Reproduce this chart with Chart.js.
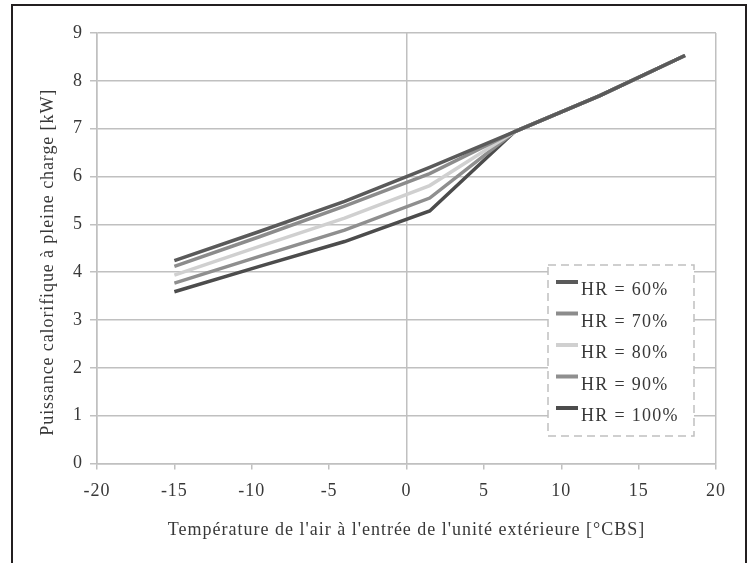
<!DOCTYPE html>
<html>
<head>
<meta charset="utf-8">
<script src="https://cdn.jsdelivr.net/npm/chart.js@4.4.1/dist/chart.umd.min.js"></script>
<style>
  html, body { margin: 0; padding: 0; background: #fff; }
  #wrap { position: relative; width: 755px; height: 563px; overflow: hidden; }
  #frame {
    position: absolute; left: 11px; top: 4px; width: 732px; height: 620px;
    border-left: 2px solid #231f20; border-top: 2px solid #231f20; border-right: 2px solid #231f20;
  }
  canvas { position: absolute; left: 0; top: 0; }
</style>
</head>
<body>
<div id="wrap">
  <div id="frame"></div>
  <canvas id="chart" width="755" height="563"></canvas>
</div>
<script>
const temps = [-15, -9.5, -4, 1.5, 7, 12.5, 18];
const hr60 = [4.24, 4.85, 5.48, 6.19, 6.94, 7.69, 8.53];
const hr70 = [4.12, 4.74, 5.38, 6.06, 6.94, 7.69, 8.53];
const hr80 = [3.94, 4.54, 5.13, 5.81, 6.94, 7.69, 8.53];
const hr90 = [3.77, 4.33, 4.88, 5.55, 6.94, 7.69, 8.53];
const hr100 = [3.59, 4.12, 4.64, 5.28, 6.94, 7.69, 8.53];

const seriesLabels = ['HR = 60%', 'HR = 70%', 'HR = 80%', 'HR = 90%', 'HR = 100%'];
const seriesColors = ['#5a5a5a', '#8c8c8c', '#d0d0d0', '#8f8f8f', '#4c4c4c'];
const xTitle = "Température de l'air à l'entrée de l'unité extérieure [°CBS]";
const yTitle = 'Puissance calorifique à pleine charge [kW]';

const FONT = 'Liberation Serif';
const TEXT = '#383838';
const GRID = '#c0c0c0';

const allSeries = [hr60, hr70, hr80, hr90, hr100];
const datasets = allSeries.map((vals, i) => ({
  label: seriesLabels[i],
  data: temps.map((t, j) => ({ x: t, y: vals[j] })),
  borderColor: seriesColors[i],
  backgroundColor: seriesColors[i],
  borderWidth: 3.5,
  pointRadius: 0,
  tension: 0,
  fill: false,
}));

// legend box with dashed border, drawn inside the plot; y title drawn by hand
const boxLegend = {
  id: 'boxLegend',
  beforeDraw(chart) {
    // the reference font runs wider than Liberation Serif
    chart.ctx.letterSpacing = '1px';
  },
  afterDatasetsDraw(chart) {
    const { ctx, chartArea } = chart;
    const x0 = chartArea.left + 451, y0 = chartArea.top + 232;
    const w = 146, h = 171;
    ctx.save();
    ctx.fillStyle = '#fff';
    ctx.fillRect(x0, y0, w, h);
    ctx.setLineDash([8, 5]);
    ctx.strokeStyle = GRID;
    ctx.lineWidth = 1.5;
    ctx.strokeRect(x0, y0, w, h);
    ctx.setLineDash([]);
    ctx.font = '18px "' + FONT + '"';
    ctx.letterSpacing = '1.3px';
    ctx.textBaseline = 'alphabetic';
    ctx.fillStyle = TEXT;
    chart.data.datasets.forEach((ds, i) => {
      const sy = y0 + 17 + i * 31.5;
      ctx.strokeStyle = ds.borderColor;
      ctx.lineWidth = 4;
      ctx.beginPath();
      ctx.moveTo(x0 + 8, sy);
      ctx.lineTo(x0 + 30, sy);
      ctx.stroke();
      ctx.fillText(ds.label, x0 + 33, sy + 13);
    });
    ctx.restore();
  },
  afterDraw(chart) {
    const { ctx, chartArea } = chart;
    ctx.save();
    ctx.font = '18px "' + FONT + '"';
    ctx.letterSpacing = '0.9px';
    ctx.fillStyle = TEXT;
    ctx.textAlign = 'center';
    ctx.textBaseline = 'middle';
    ctx.translate(48, (chartArea.top + chartArea.bottom) / 2 + 14);
    ctx.rotate(-Math.PI / 2);
    ctx.fillText(yTitle, 0, 0);
    ctx.restore();
  }
};

new Chart(document.getElementById('chart'), {
  type: 'line',
  data: { datasets },
  plugins: [boxLegend],
  options: {
    responsive: false,
    animation: false,
    layout: { padding: { left: 0, right: 39, top: 33, bottom: 0 } },
    plugins: { legend: { display: false }, tooltip: { enabled: false } },
    scales: {
      x: {
        type: 'linear', min: -20, max: 20,
        afterFit: s => { s.height = 99.5; },
        ticks: { stepSize: 5, color: TEXT, padding: 11, font: { family: FONT, size: 18 } },
        grid: {
          color: c => (c.tick && c.tick.value % 20 === 0) ? GRID : 'rgba(0,0,0,0)',
          tickColor: GRID, lineWidth: 1.5, tickLength: 6,
        },
        border: { color: GRID, width: 1.5 },
        title: { display: true, text: xTitle, color: TEXT, font: { family: FONT, size: 18 }, padding: { top: 0, bottom: 22 } },
      },
      y: {
        min: 0, max: 9,
        afterFit: s => { s.width = 97; },
        ticks: { stepSize: 1, color: TEXT, padding: 7, font: { family: FONT, size: 18 } },
        grid: { color: GRID, tickColor: GRID, lineWidth: 1.5, tickLength: 7 },
        border: { color: GRID, width: 1.5 },
      },
    },
  },
});
</script>
</body>
</html>
